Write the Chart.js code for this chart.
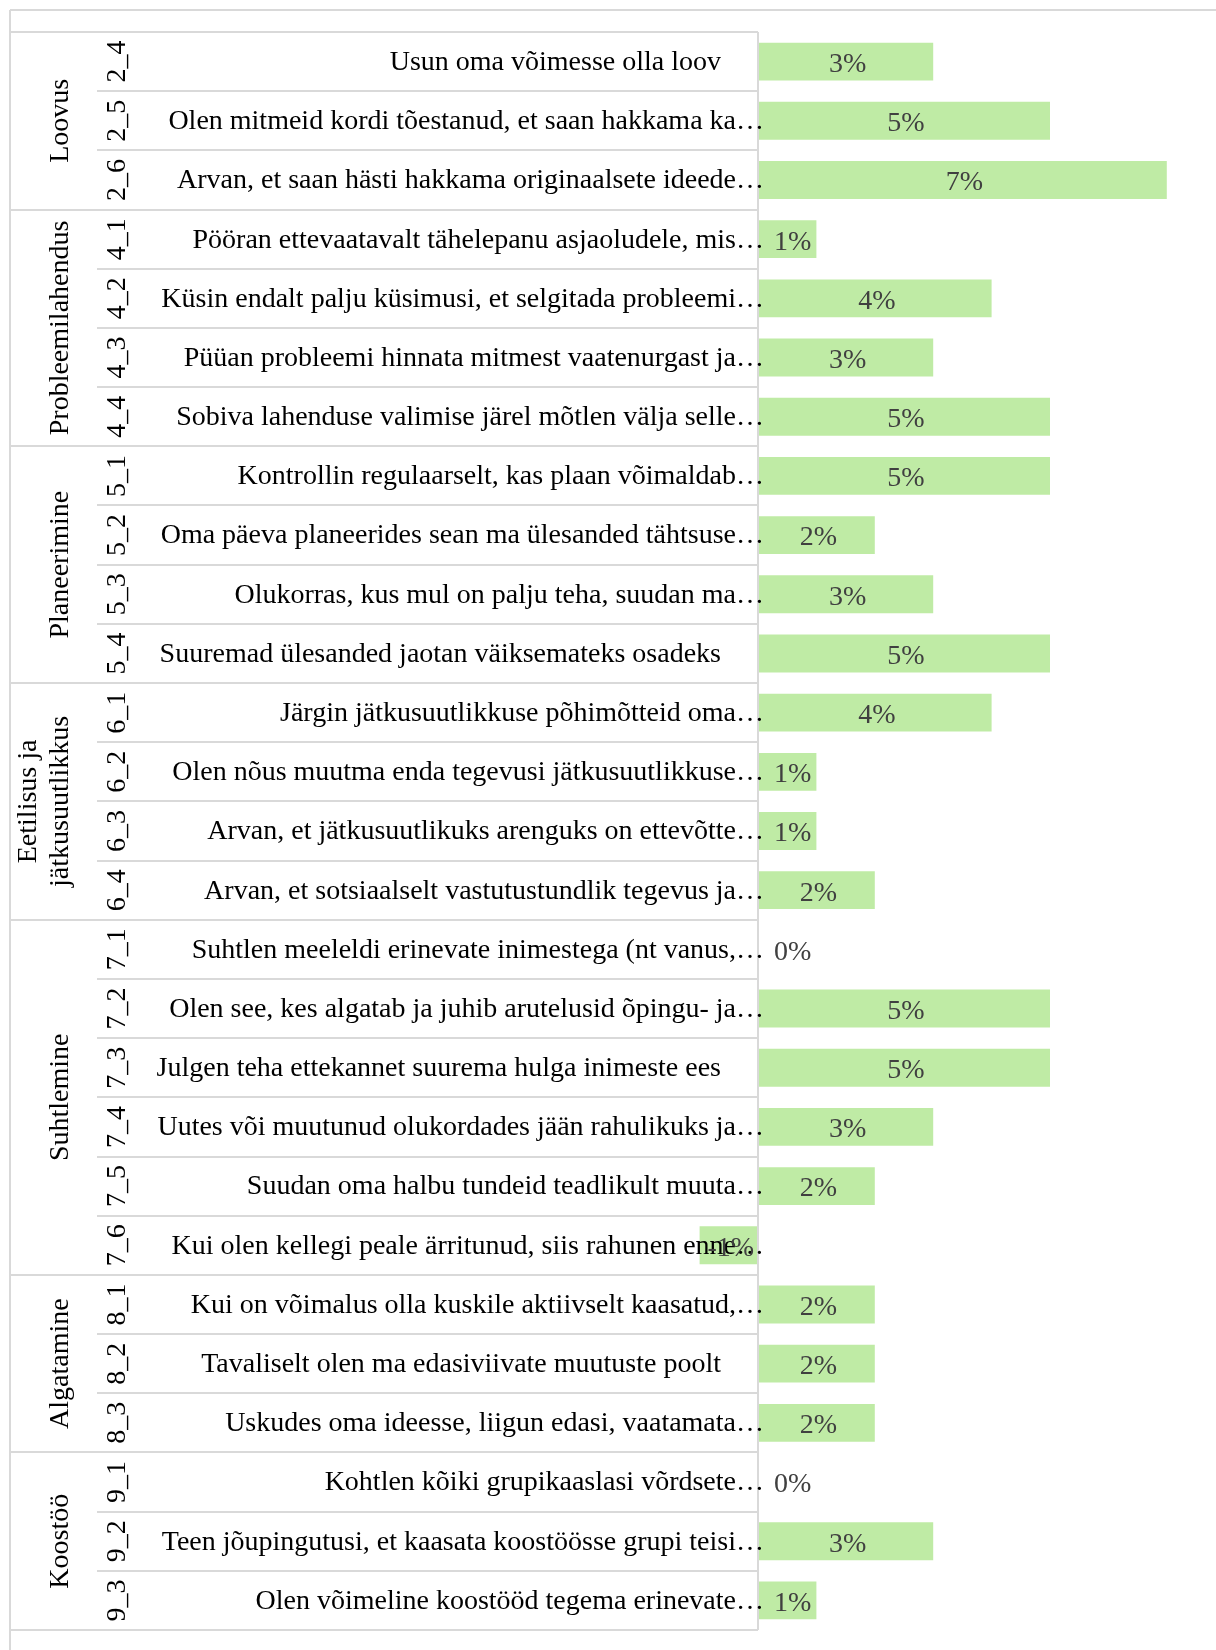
<!DOCTYPE html>
<html>
<head>
<meta charset="utf-8">
<script src="https://cdn.jsdelivr.net/npm/chart.js@4.4.1/dist/chart.umd.min.js"></script>
<style>
  body { margin: 0; background: #fff; }
  #wrap { width: 1216px; height: 1650px; }
</style>
</head>
<body>
<div id="wrap"><canvas id="chart" width="1216" height="1650"></canvas></div>
<script>
// categories
const codes = ["2_4", "2_5", "2_6",
    "4_1", "4_2", "4_3", "4_4",
    "5_1", "5_2", "5_3", "5_4",
    "6_1", "6_2", "6_3", "6_4",
    "7_1", "7_2", "7_3", "7_4", "7_5", "7_6",
    "8_1", "8_2", "8_3",
    "9_1", "9_2", "9_3"];

const statements = [
    "Usun oma võimesse olla loov",
    "Olen mitmeid kordi tõestanud, et saan hakkama ka…",
    "Arvan, et saan hästi hakkama originaalsete ideede…",
    "Pööran ettevaatavalt tähelepanu asjaoludele, mis…",
    "Küsin endalt palju küsimusi, et selgitada probleemi…",
    "Püüan probleemi hinnata mitmest vaatenurgast ja…",
    "Sobiva lahenduse valimise järel mõtlen välja selle…",
    "Kontrollin regulaarselt, kas plaan võimaldab…",
    "Oma päeva planeerides sean ma ülesanded tähtsuse…",
    "Olukorras, kus mul on palju teha, suudan ma…",
    "Suuremad ülesanded jaotan väiksemateks osadeks",
    "Järgin jätkusuutlikkuse põhimõtteid oma…",
    "Olen nõus muutma enda tegevusi jätkusuutlikkuse…",
    "Arvan, et jätkusuutlikuks arenguks on ettevõtte…",
    "Arvan, et sotsiaalselt vastutustundlik tegevus ja…",
    "Suhtlen meeleldi erinevate inimestega (nt vanus,…",
    "Olen see, kes algatab ja juhib arutelusid õpingu- ja…",
    "Julgen teha ettekannet suurema hulga inimeste ees",
    "Uutes või muutunud olukordades jään rahulikuks ja…",
    "Suudan oma halbu tundeid teadlikult muuta…",
    "Kui olen kellegi peale ärritunud, siis rahunen enne…",
    "Kui on võimalus olla kuskile aktiivselt kaasatud,…",
    "Tavaliselt olen ma edasiviivate muutuste poolt",
    "Uskudes oma ideesse, liigun edasi, vaatamata…",
    "Kohtlen kõiki grupikaaslasi võrdsete…",
    "Teen jõupingutusi, et kaasata koostöösse grupi teisi…",
    "Olen võimeline koostööd tegema erinevate…"
];

const groupNames = ["Loovus", "Probleemilahendus", "Planeerimine",
    "Eetilisus ja\njätkusuutlikkus", "Suhtlemine", "Algatamine", "Koostöö"];
const groupSizes = [3, 4, 4, 4, 6, 3, 3];

// percent values
const values = [3, 5, 7,
    1, 4, 3, 5,
    5, 2, 3, 5,
    4, 1, 1, 2,
    0, 5, 5, 3, 2, -1,
    2, 2, 2,
    0, 3, 1];

const lineColor = "#d9d9d9";
const serif = "'Liberation Serif', 'Times New Roman', serif";

const tablePlugin = {
    id: "table",
    afterDatasetsDraw(chart) {
        const ctx = chart.ctx;
        const area = chart.chartArea;
        const y = chart.scales.y;
        const axisX = chart.scales.x.getPixelForValue(0);
        const rowH = Math.abs(y.getPixelForValue(1) - y.getPixelForValue(0));
        const rowTop = i => y.getPixelForValue(i) - rowH / 2;

        ctx.save();
        ctx.strokeStyle = lineColor;
        ctx.lineWidth = 2;
        // outer frame (top + left)
        ctx.beginPath();
        ctx.moveTo(10, 10); ctx.lineTo(chart.width, 10);
        ctx.moveTo(10, 10); ctx.lineTo(10, chart.height);
        ctx.stroke();

        // row lines
        const groupStarts = [0];
        groupSizes.forEach((n, i) => groupStarts.push(groupStarts[i] + n));
        ctx.beginPath();
        for (let i = 0; i <= codes.length; i++) {
            const yy = Math.round(rowTop(i));
            const x0 = groupStarts.includes(i) ? 10 : 97;
            ctx.moveTo(x0, yy); ctx.lineTo(axisX, yy);
        }
        ctx.moveTo(axisX, area.top); ctx.lineTo(axisX, area.bottom);
        ctx.stroke();

        // statement texts
        ctx.font = "28px " + serif;
        ctx.fillStyle = "#000";
        ctx.textBaseline = "middle";
        ctx.textAlign = "right";
        statements.forEach((s, i) => {
            const yy = y.getPixelForValue(i) + 1;
            const xr = s.endsWith("…") ? axisX + 6 : axisX - 37;
            ctx.fillText(s, xr, yy);
        });

        // codes, rotated
        ctx.textAlign = "center";
        ctx.textBaseline = "alphabetic";
        codes.forEach((c, i) => {
            ctx.save();
            ctx.translate(125, y.getPixelForValue(i));
            ctx.rotate(-Math.PI / 2);
            ctx.fillText(c, 0, 0);
            ctx.restore();
        });

        // group names, rotated
        groupNames.forEach((g, gi) => {
            const mid = (rowTop(groupStarts[gi]) + rowTop(groupStarts[gi + 1])) / 2;
            const lines = g.split("\n");
            lines.forEach((ln, li) => {
                ctx.save();
                ctx.translate(68 - (lines.length - 1 - li) * 32, mid);
                ctx.rotate(-Math.PI / 2);
                ctx.fillText(ln, 0, 0);
                ctx.restore();
            });
        });

        // data labels
        const meta = chart.getDatasetMeta(0);
        ctx.fillStyle = "#404040";
        ctx.textBaseline = "middle";
        ctx.textAlign = "left";
        meta.data.forEach((bar, i) => {
            const v = values[i];
            const txt = v + "%";
            const w = ctx.measureText(txt).width;
            let left = (bar.x + bar.base) / 2 - w / 2 + 2;
            if (v >= 0) left = Math.max(left, axisX + 16);
            ctx.fillText(txt, left, bar.y + 3);
        });
        ctx.restore();
    }
};

new Chart(document.getElementById("chart"), {
    type: "bar",
    data: {
        labels: codes,
        datasets: [{
            data: values,
            backgroundColor: "#bfeba5",
            borderWidth: 0,
            barPercentage: 0.64,
            categoryPercentage: 1,
            clip: false
        }]
    },
    options: {
        indexAxis: "y",
        responsive: false,
        animation: false,
        layout: { padding: { left: 758, top: 32, right: 20, bottom: 20 } },
        scales: {
            x: { display: false, min: 0, max: 7.5 },
            y: { display: false }
        },
        plugins: { legend: { display: false }, tooltip: { enabled: false } }
    },
    plugins: [tablePlugin]
});
</script>
</body>
</html>
